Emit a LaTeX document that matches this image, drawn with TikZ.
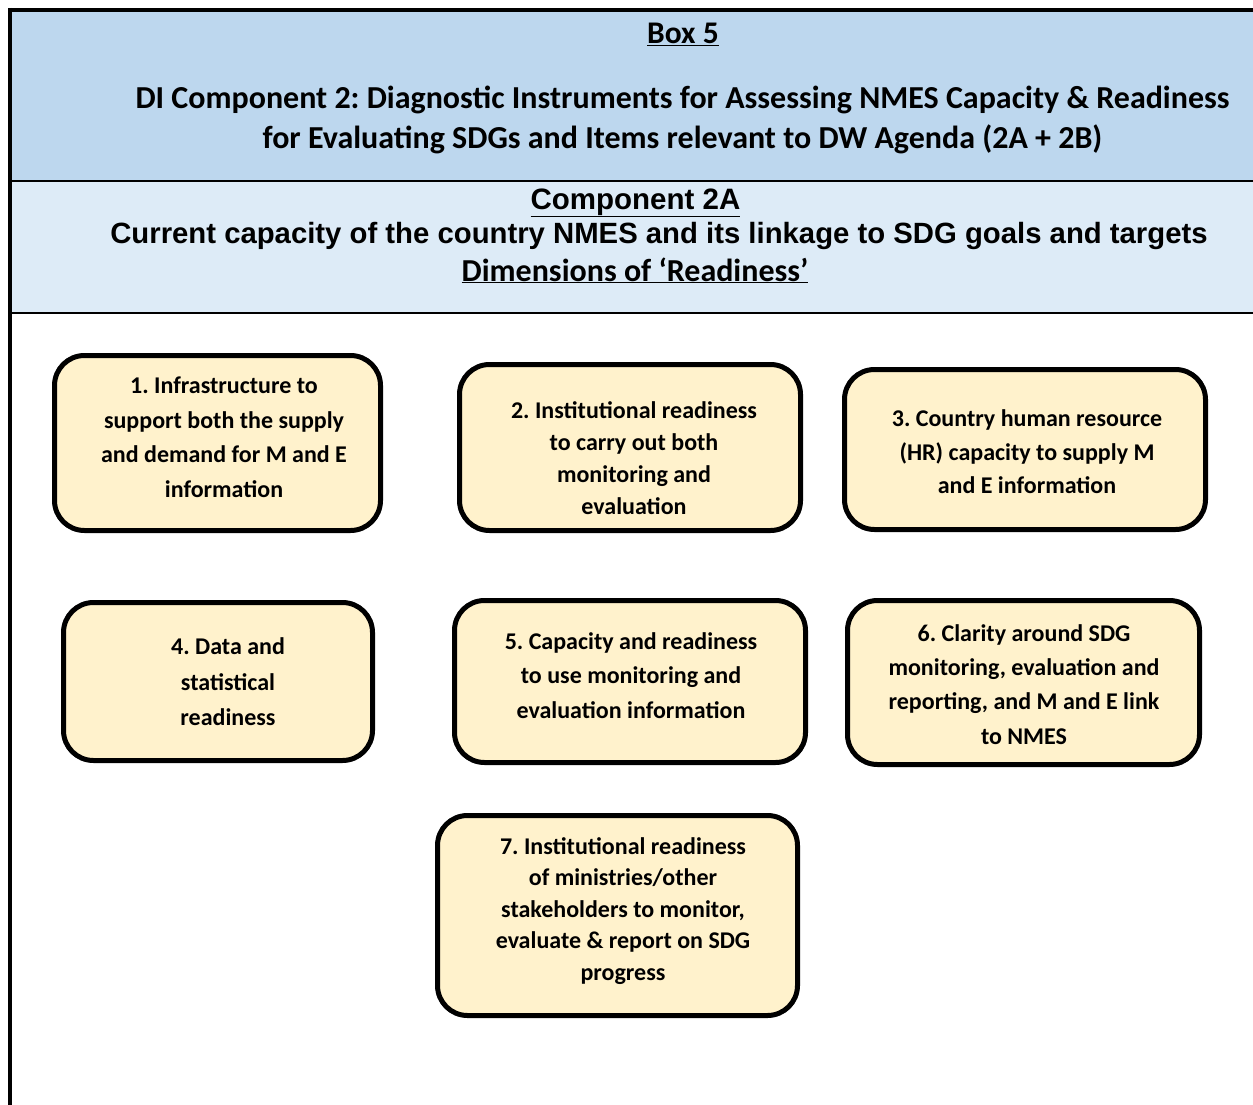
\documentclass[tikz,border=0pt]{standalone}
\usepackage{fontspec}
\setmainfont{Carlito}
\newfontfamily\arialfont{Liberation Sans}
\definecolor{bandA}{HTML}{BDD7EE}
\definecolor{bandB}{HTML}{DDEBF7}
\definecolor{boxfill}{HTML}{FFF2CC}
\frenchspacing
\tikzset{
  dimbox/.style={draw=black, line width=5pt, fill=boxfill, rounded corners=30pt, inner sep=0pt},
  dimtxt/.style={align=center, inner sep=0pt, font=\fontsize{24}{34}\selectfont\bfseries},
  headtxt/.style={anchor=base, inner sep=0pt, align=center},
  frameline/.style={line width=4pt, black},
  bandline/.style={line width=2.5pt, black}
}
\begin{document}
\begin{tikzpicture}[x=1pt,y=-1pt]
\useasboundingbox (0,0) rectangle (1253,1105);
% bands
\fill[bandA] (10,10) rectangle (1253,181);
\fill[bandB] (10,181) rectangle (1253,313);
% frame lines
\coordinate (tl) at (10,8);
\coordinate (tr) at (1253,10);
\coordinate (lb) at (10,1105);
\draw[frameline] (8,10) -- (tr);
\draw[frameline] (tl) -- (lb);
\draw[bandline] (10,181) -- (1253,181);
\draw[bandline] (10,313) -- (1253,313);
% header texts
\node[headtxt, font=\fontsize{31.5}{31.5}\selectfont\bfseries] (box5) at (683,44) {\underline{Box 5}};
\node[headtxt, font=\fontsize{32}{32}\selectfont\bfseries] (h1) at (682.5,109) {DI Component 2: Diagnostic Instruments for Assessing NMES Capacity \& Readiness};
\node[headtxt, font=\fontsize{32}{32}\selectfont\bfseries] (h2) at (682.5,148.5) {for Evaluating SDGs and Items relevant to DW Agenda (2A + 2B)};
\node[headtxt, font=\arialfont\fontsize{29.5}{29.5}\selectfont\bfseries] (c2a) at (635.5,209) {\underline{Component 2A}};
\node[headtxt, font=\arialfont\fontsize{29.3}{29.3}\selectfont\bfseries] (cur) at (659,243) {Current capacity of the country NMES and its linkage to SDG goals and targets};
\node[headtxt, font=\fontsize{32}{32}\selectfont\bfseries] (dim) at (635,281) {\underline{Dimensions of ‘Readiness’}};
% dimension boxes
\node[dimbox, minimum width=326pt, minimum height=175pt] (b1) at (217.5,443) {};
\node[dimbox, minimum width=341pt, minimum height=166pt] (b2) at (630,447.5) {};
\node[dimbox, minimum width=361pt, minimum height=160pt] (b3) at (1025,449.5) {};
\node[dimbox, minimum width=309pt, minimum height=158pt] (b4) at (218,681.5) {};
\node[dimbox, minimum width=351pt, minimum height=162pt] (b5) at (630,681.5) {};
\node[dimbox, minimum width=352pt, minimum height=164pt] (b6) at (1023.5,682.5) {};
\node[dimbox, minimum width=360pt, minimum height=200pt] (b7) at (617.5,915.5) {};
% box texts
\node[dimtxt, font=\fontsize{24}{34.5}\selectfont\bfseries] (t1) at (224,437) {1. Infrastructure to\\support both the supply\\and demand for M and E\\information};
\node[dimtxt, font=\fontsize{24}{32}\selectfont\bfseries] (t2) at (634,458) {2. Institutional readiness\\to carry out both\\monitoring and\\evaluation};
\node[dimtxt, font=\fontsize{24}{33.5}\selectfont\bfseries] (t3) at (1027,452) {3. Country human resource\\(HR) capacity to supply M\\and E information};
\node[dimtxt, font=\fontsize{24}{35.5}\selectfont\bfseries] (t4) at (228,682) {4. Data and\\statistical\\readiness};
\node[dimtxt, font=\fontsize{24}{34.5}\selectfont\bfseries] (t5) at (631,675.5) {5. Capacity and readiness\\to use monitoring and\\evaluation information};
\node[dimtxt, font=\fontsize{24}{34.3}\selectfont\bfseries] (t6) at (1024,684.5) {6. Clarity around SDG\\monitoring, evaluation and\\reporting, and M and E link\\to NMES};
\node[dimtxt, font=\fontsize{24}{31.5}\selectfont\bfseries] (t7) at (623,911) {7. Institutional readiness\\of ministries/other\\stakeholders to monitor,\\evaluate \& report on SDG\\progress};
\end{tikzpicture}
\end{document}
